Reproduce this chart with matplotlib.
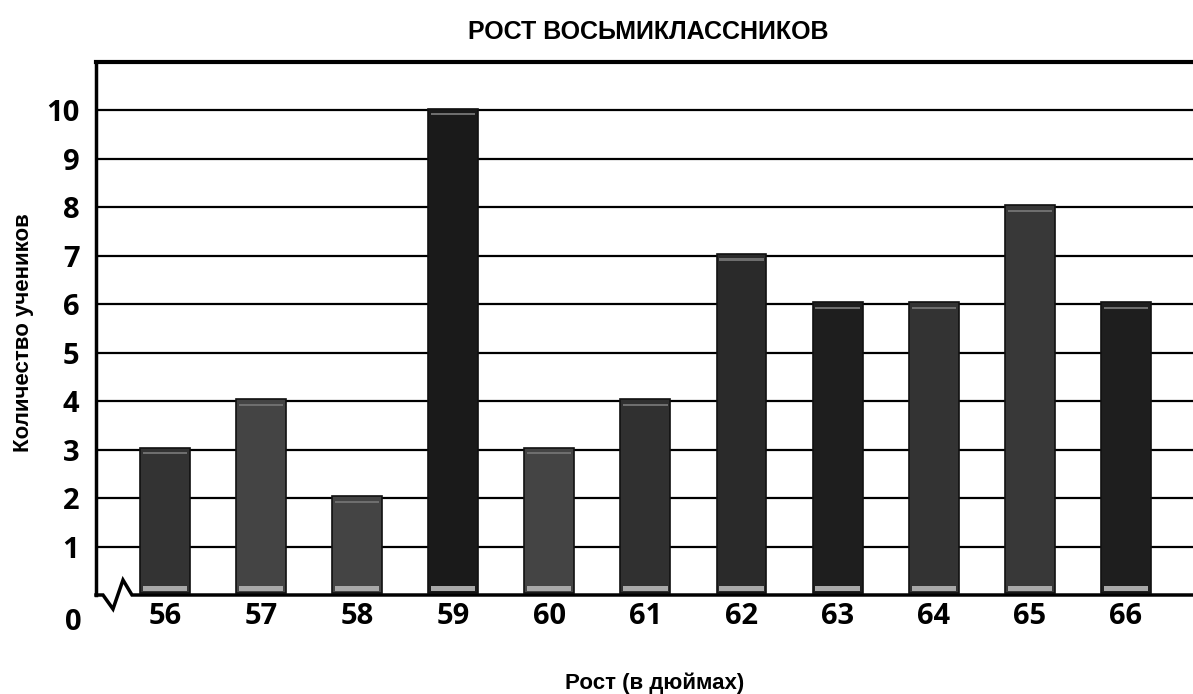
import matplotlib.pyplot as plt
from matplotlib import font_manager

# heights in inches and number of students
heights = [56, 57, 58, 59, 60, 61, 62, 63, 64, 65, 66]
counts = [3, 4, 2, 10, 3, 4, 7, 6, 6, 8, 6]
bar_colors = ['#333333', '#444444', '#444444', '#1a1a1a', '#444444', '#303030',
              '#2a2a2a', '#1e1e1e', '#333333', '#383838', '#1e1e1e']
y_ticks = [1, 2, 3, 4, 5, 6, 7, 8, 9, 10]

names = {f.name for f in font_manager.fontManager.ttflist}
narrow = 'Liberation Sans Narrow' if 'Liberation Sans Narrow' in names else 'Liberation Sans'
plt.rcParams['font.family'] = ['Open Sans', 'DejaVu Sans']

fig = plt.figure(figsize=(11.93, 6.94), dpi=100)
ax = fig.add_axes([96 / 1193, 1 - 595 / 694, 1 - 96 / 1193, (595 - 62) / 694])

x0, x1 = 55.28, 66.70
ax.set_xlim(x0, x1)
ax.set_ylim(0, 11.0)

# horizontal grid lines
for v in y_ticks:
    ax.axhline(v, color='black', lw=1.6, zorder=1)

# bars with a light strip at top and bottom
for h, c, col in zip(heights, counts, bar_colors):
    ax.bar(h, c, width=0.52, bottom=0.04, color=col, edgecolor='#111111', lw=1.2, zorder=2)
    ax.bar(h, 0.05, width=0.46, bottom=c - 0.1, color='#6e6e6e', lw=0, zorder=3)
    ax.bar(h, 0.1, width=0.46, bottom=0.08, color='#a8a8a8', lw=0, zorder=3)

for s in ['right', 'bottom']:
    ax.spines[s].set_visible(False)
ax.spines['left'].set_linewidth(2.5)
ax.spines['top'].set_linewidth(3)

# bottom axis line with a break mark
px = lambda p: x0 + (p - 96) / 96.1
py = lambda p: (595 - p) / 48.4
bx = [px(96), px(103), px(113), px(123), px(132), px(1193)]
by = [py(595), py(595), py(609), py(580), py(595), py(595)]
ax.plot(bx, by, color='black', lw=2.5, clip_on=False, zorder=5, solid_joinstyle='miter')

ax.set_xticks(heights)
ax.set_xticklabels([str(h) for h in heights], fontsize=21, fontweight='bold')
ax.set_yticks(y_ticks)
ax.set_yticklabels([str(v) for v in y_ticks], fontsize=21, fontweight='bold')
ax.tick_params(axis='both', length=0)
ax.tick_params(axis='x', pad=5)
ax.tick_params(axis='y', pad=12)
ax.text(px(73), py(622), '0', fontsize=21, fontweight='bold', ha='center', va='center')

fig.text(648 / 1193, 1 - 32 / 694, 'РОСТ ВОСЬМИКЛАССНИКОВ', ha='center', va='center',
         fontsize=18, fontweight='bold', family=narrow)
fig.text(655 / 1193, 1 - 683 / 694, 'Рост (в дюймах)', ha='center', va='center',
         fontsize=16, fontweight='bold', family=narrow)
fig.text(24 / 1193, 1 - 333 / 694, 'Количество учеников', ha='center', va='center',
         rotation=90, fontsize=16, fontweight='bold', family=narrow)

fig.savefig('out.png', dpi=100)
